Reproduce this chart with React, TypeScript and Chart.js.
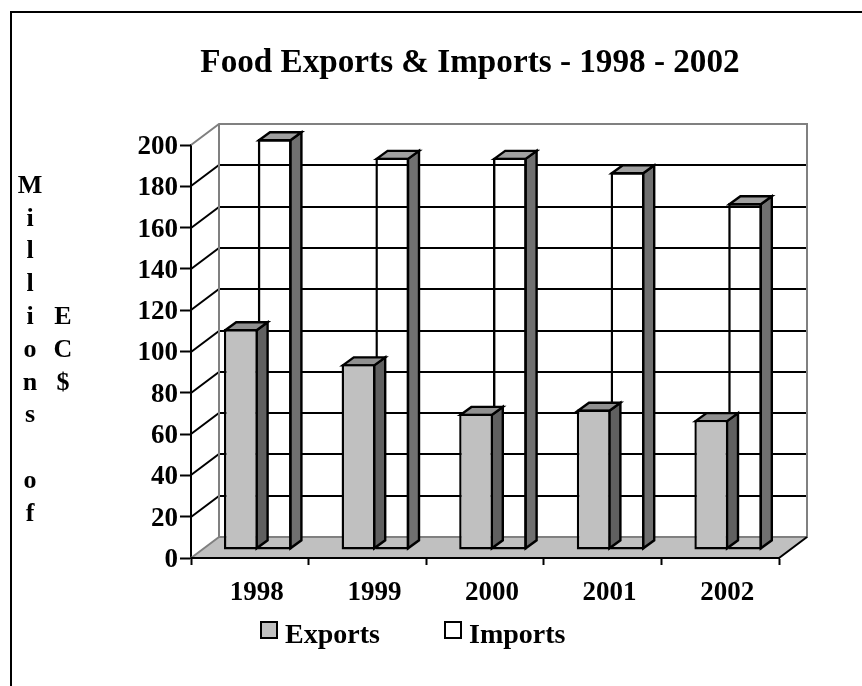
import React, { useEffect, useRef } from "react";
import { Chart, registerables } from "chart.js";

Chart.register(...registerables);

const titleText = "Food Exports & Imports - 1998 - 2002";
const categories = ["1998", "1999", "2000", "2001", "2002"];
const exportsValues = [107, 90, 66, 68, 63];
const importsValues = [199, 190, 190, 183, 168];
const axisTitleFirstColumn = ["M", "i", "l", "l", "i", "o", "n", "s", "", "o", "f"];
const axisTitleSecondColumn = ["", "", "", "", "E", "C", "$"];

const FONT = "'Liberation Serif'";
const DEPTH_X = 28;
const DEPTH_Y = 21;
const BAR_SHIFT_X = 8;
const BAR_SHIFT_Y = 8;
const BAR_DX = 11;
const BAR_DY = 8;
const BAR_LINE = 2.4;

const chart3d = {
  id: "chart3d",
  afterLayout(chart: any) {
    const t = chart.titleBlock;
    if (t) {
      t.left = 78;
      t.right = 862;
    }
  },
  beforeDatasetsDraw(chart: any) {
    const { ctx, chartArea: a, scales } = chart;
    const y = scales.y;
    const bottom = a.bottom;
    ctx.save();
    ctx.lineWidth = 2;
    // floor
    ctx.beginPath();
    ctx.moveTo(a.left, bottom);
    ctx.lineTo(a.right, bottom);
    ctx.lineTo(a.right + DEPTH_X, bottom - DEPTH_Y);
    ctx.lineTo(a.left + DEPTH_X, bottom - DEPTH_Y);
    ctx.closePath();
    ctx.fillStyle = "#c0c0c0";
    ctx.fill();
    // grid lines on side and back walls
    ctx.strokeStyle = "#000000";
    y.ticks.forEach((t: any) => {
      if (t.value === 0 || t.value === y.max) return;
      const py = Math.round(y.getPixelForValue(t.value));
      ctx.beginPath();
      ctx.moveTo(a.left, py);
      ctx.lineTo(a.left + DEPTH_X, py - DEPTH_Y);
      ctx.lineTo(a.right + DEPTH_X, py - DEPTH_Y);
      ctx.stroke();
    });
    // grey wall edges
    ctx.strokeStyle = "#808080";
    ctx.beginPath();
    ctx.moveTo(a.left, a.top);
    ctx.lineTo(a.left + DEPTH_X, a.top - DEPTH_Y);
    ctx.lineTo(a.right + DEPTH_X, a.top - DEPTH_Y);
    ctx.lineTo(a.right + DEPTH_X, bottom - DEPTH_Y);
    ctx.lineTo(a.left + DEPTH_X, bottom - DEPTH_Y);
    ctx.lineTo(a.left + DEPTH_X, a.top - DEPTH_Y);
    ctx.moveTo(a.left + DEPTH_X, bottom - DEPTH_Y);
    ctx.lineTo(a.left, bottom);
    ctx.stroke();
    // front floor edges
    ctx.strokeStyle = "#000000";
    ctx.beginPath();
    ctx.moveTo(a.left, bottom);
    ctx.lineTo(a.right, bottom);
    ctx.lineTo(a.right + DEPTH_X, bottom - DEPTH_Y);
    ctx.stroke();
    ctx.restore();
  },
  beforeDatasetDraw(chart: any, args: any) {
    const { ctx } = chart;
    const ds = chart.data.datasets[args.index];
    const inset = BAR_LINE / 2;
    ctx.save();
    ctx.translate(BAR_SHIFT_X, -BAR_SHIFT_Y);
    ctx.lineWidth = BAR_LINE;
    ctx.strokeStyle = "#000000";
    ctx.lineJoin = "miter";
    args.meta.data.forEach((bar: any) => {
      const left = bar.x - bar.width / 2 + inset;
      const right = bar.x + bar.width / 2 - inset;
      const top = bar.y + inset;
      const base = bar.base - inset;
      ctx.beginPath();
      ctx.moveTo(right, top);
      ctx.lineTo(right + BAR_DX, top - BAR_DY);
      ctx.lineTo(right + BAR_DX, base - BAR_DY);
      ctx.lineTo(right, base);
      ctx.closePath();
      ctx.fillStyle = ds.sideColor;
      ctx.fill();
      ctx.stroke();
      ctx.beginPath();
      ctx.moveTo(left, top);
      ctx.lineTo(left + BAR_DX, top - BAR_DY);
      ctx.lineTo(right + BAR_DX, top - BAR_DY);
      ctx.lineTo(right, top);
      ctx.closePath();
      ctx.fillStyle = ds.topColor;
      ctx.fill();
      ctx.stroke();
    });
  },
  afterDatasetDraw(chart: any) {
    chart.ctx.restore();
  },
  afterDraw(chart: any) {
    const { ctx } = chart;
    ctx.save();
    // outer frame
    ctx.strokeStyle = "#000000";
    ctx.lineWidth = 2;
    ctx.beginPath();
    ctx.moveTo(11, 686);
    ctx.lineTo(11, 12);
    ctx.lineTo(862, 12);
    ctx.stroke();
    // axis title, stacked in two columns
    ctx.fillStyle = "#000000";
    ctx.font = `bold 26px ${FONT}`;
    ctx.textAlign = "center";
    ctx.textBaseline = "middle";
    axisTitleFirstColumn.forEach((c, i) => ctx.fillText(c, 30, 186 + i * 32.8));
    axisTitleSecondColumn.forEach((c, i) => ctx.fillText(c, 63, 186 + i * 32.8));
    // legend
    const entries = [
      { x: 261, textX: 285 },
      { x: 445, textX: 469 },
    ];
    ctx.font = `bold 28px ${FONT}`;
    ctx.textAlign = "left";
    ctx.textBaseline = "alphabetic";
    chart.data.datasets.forEach((ds: any, i: number) => {
      const e = entries[i];
      ctx.fillStyle = ds.backgroundColor;
      ctx.fillRect(e.x, 622, 16, 16);
      ctx.strokeStyle = "#000000";
      ctx.lineWidth = 2;
      ctx.strokeRect(e.x, 622, 16, 16);
      ctx.fillStyle = "#000000";
      ctx.fillText(ds.label, e.textX, 643);
    });
    ctx.restore();
  },
};

export default function App() {
  const ref = useRef<HTMLCanvasElement>(null);
  useEffect(() => {
    const chart = new Chart(ref.current!, {
      type: "bar",
      data: {
        labels: categories,
        datasets: [
          {
            label: "Exports",
            data: exportsValues,
            backgroundColor: "#c0c0c0",
            borderColor: "#000000",
            borderWidth: BAR_LINE,
            borderSkipped: false,
            clip: false,
            sideColor: "#606060",
            topColor: "#909090",
          } as any,
          {
            label: "Imports",
            data: importsValues,
            backgroundColor: "rgba(255,255,255,0)",
            borderColor: "#000000",
            borderWidth: BAR_LINE,
            borderSkipped: false,
            clip: false,
            sideColor: "#707070",
            topColor: "#a0a0a0",
          } as any,
        ],
      },
      options: {
        responsive: false,
        animation: false,
        layout: { padding: { left: 0, right: 83, top: 0, bottom: 0 } },
        datasets: { bar: { categoryPercentage: 0.575, barPercentage: 1 } },
        plugins: {
          legend: { display: false },
          tooltip: { enabled: false },
          title: {
            display: true,
            text: titleText,
            color: "#000000",
            font: { family: FONT, size: 33.2, weight: "bold", lineHeight: 1.2 },
            padding: { top: 43.5, bottom: 61.66 },
          },
        },
        scales: {
          x: {
            afterFit: (s: any) => {
              s.height = 128;
            },
            border: { color: "#000000", width: 2 },
            grid: { drawOnChartArea: false, drawTicks: true, tickLength: 7, tickColor: "#000000", tickWidth: 2 },
            ticks: {
              color: "#000000",
              font: { family: FONT, size: 27, weight: "bold" },
              padding: 12,
              labelOffset: 7,
              maxRotation: 0,
              autoSkip: false,
            },
          },
          y: {
            min: 0,
            max: 200,
            afterFit: (s: any) => {
              s.width = 191;
            },
            border: { color: "#000000", width: 2 },
            grid: { drawOnChartArea: false, drawTicks: true, tickLength: 11, tickColor: "#000000", tickWidth: 2 },
            ticks: {
              stepSize: 20,
              color: "#000000",
              font: { family: FONT, size: 27, weight: "bold" },
              padding: 2,
              labelOffset: 2,
            },
          },
        },
      } as any,
      plugins: [chart3d],
    });
    return () => chart.destroy();
  }, []);
  return (
    <canvas
      ref={ref}
      width={862}
      height={686}
      style={{ position: "absolute", left: 0, top: 0, width: 862, height: 686, display: "block" }}
    />
  );
}
